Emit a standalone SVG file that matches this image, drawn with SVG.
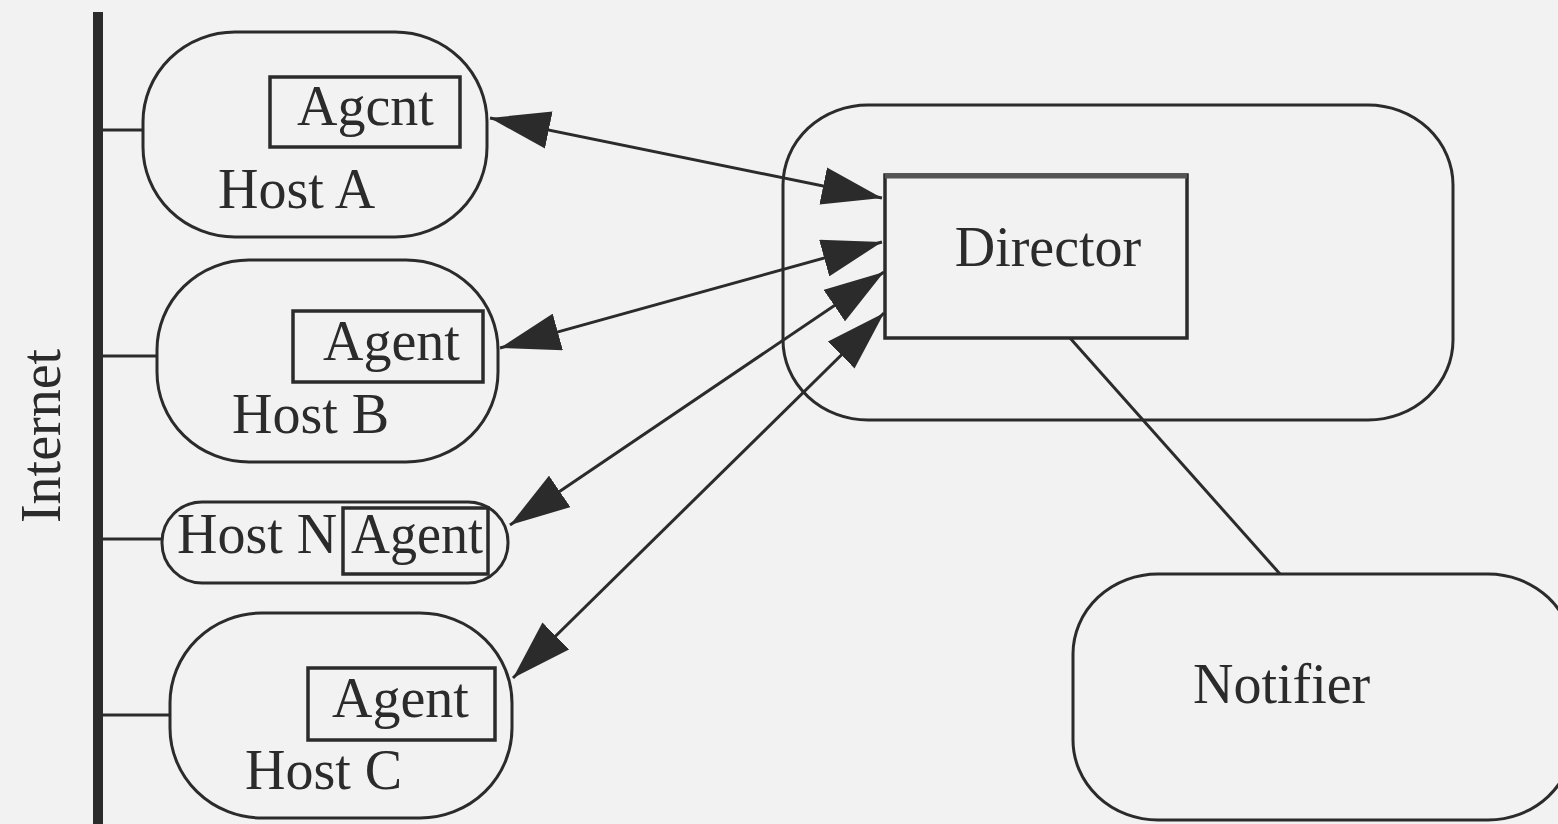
<svg xmlns="http://www.w3.org/2000/svg" width="1558" height="824" viewBox="0 0 1558 824">
<style>
.shape{fill:none;stroke:#2b2b2b;stroke-width:3}
.box{fill:none;stroke:#2b2b2b;stroke-width:3.5}
.lbl{font-family:"Liberation Serif","Times New Roman",serif;font-size:56px;fill:#2b2b2b}
.conn{fill:none;stroke:#2b2b2b;stroke-width:3}
</style>
<defs>
<marker id="ah" viewBox="0 0 60 38" refX="60" refY="19" markerWidth="60" markerHeight="38" markerUnits="userSpaceOnUse" orient="auto-start-reverse">
<path d="M0,0 L60,19 L0,38 z" fill="#2b2b2b"/>
</marker>
</defs>
<rect x="0" y="0" width="1558" height="824" fill="#f2f2f2"/>

<g id="internet">
<line x1="98" y1="12" x2="98" y2="824" stroke="#2b2b2b" stroke-width="10"/>
<text class="lbl" transform="translate(60,436) rotate(-90)" text-anchor="middle">Internet</text>
</g>

<g id="hostA">
<line class="shape" x1="103" y1="130" x2="143" y2="130"/>
<rect class="shape" x="143" y="32" width="344" height="205" rx="92" ry="90"/>
<rect class="box" x="270" y="77" width="190" height="70"/>
<text class="lbl" x="297" y="125">Agcnt</text>
<text class="lbl" x="218" y="208">Host A</text>
</g>

<g id="hostB">
<line class="shape" x1="103" y1="356" x2="157" y2="356" stroke-width="4"/>
<rect class="shape" x="157" y="260" width="341" height="202" rx="92" ry="90"/>
<rect class="box" x="293" y="311" width="190" height="71"/>
<text class="lbl" x="323" y="360">Agent</text>
<text class="lbl" x="232" y="433">Host B</text>
</g>

<g id="hostN">
<line class="shape" x1="103" y1="539" x2="162" y2="539"/>
<rect class="shape" x="162" y="502" width="346" height="81" rx="40" ry="40"/>
<rect class="box" x="343" y="508" width="145" height="66"/>
<text class="lbl" x="177" y="553">Host N</text>
<text class="lbl" x="351" y="553" textLength="132" lengthAdjust="spacingAndGlyphs">Agent</text>
</g>

<g id="hostC">
<line class="shape" x1="103" y1="715" x2="170" y2="715" stroke-width="4"/>
<rect class="shape" x="170" y="613" width="342" height="205" rx="92" ry="90"/>
<rect class="box" x="308" y="668" width="187" height="72"/>
<text class="lbl" x="332" y="717">Agent</text>
<text class="lbl" x="245" y="789">Host C</text>
</g>

<g id="director">
<rect class="shape" x="783" y="105" width="670" height="315" rx="85" ry="80"/>
<rect class="box" x="885" y="175" width="302" height="163"/>
<line x1="885" y1="176" x2="1187" y2="176" stroke="#555" stroke-width="5"/>
<text class="lbl" x="1048" y="266" text-anchor="middle">Director</text>
</g>

<g id="notifier">
<rect class="shape" x="1073" y="574" width="500" height="246" rx="85" ry="80"/>
<text class="lbl" x="1193" y="703">Notifier</text>
</g>

<g id="connectors">
<path class="conn" d="M490,118 L882,198" marker-start="url(#ah)" marker-end="url(#ah)"/>
<path class="conn" d="M500,348 L882,242" marker-start="url(#ah)" marker-end="url(#ah)"/>
<path class="conn" d="M510,525 L884,272" marker-start="url(#ah)" marker-end="url(#ah)"/>
<path class="conn" d="M513,678 L884,313" marker-start="url(#ah)" marker-end="url(#ah)"/>
<path class="conn" d="M1070,338 L1280,574"/>
</g>
</svg>
